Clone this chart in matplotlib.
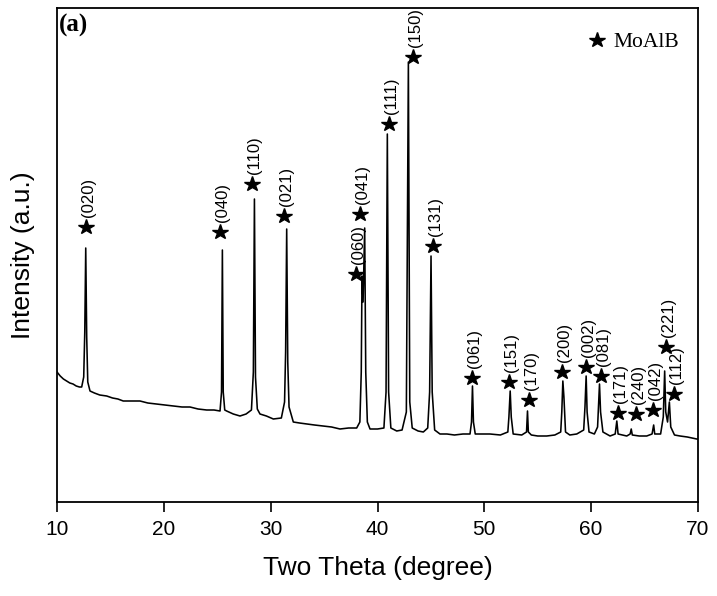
import matplotlib
matplotlib.use("Agg")
import matplotlib.pyplot as plt

# ---- XRD profile (2theta in degrees, intensity a.u.) ----
two_theta = [
    10.00, 10.30, 10.60, 10.90, 11.20, 11.50, 11.80, 12.10, 12.31, 12.50, 12.60, 12.69, 12.78, 12.88,
    13.09, 13.50, 14.00, 14.65, 15.20, 15.70, 16.20, 17.00, 17.77, 18.50, 19.33, 20.10, 20.89, 21.70,
    22.45, 23.20, 24.01, 24.70, 25.26, 25.40, 25.48, 25.56, 25.70, 25.88, 26.50, 27.13, 27.70, 28.20,
    28.38, 28.48, 28.58, 28.75, 29.00, 29.60, 30.25, 31.00, 31.30, 31.40, 31.50, 31.60, 31.72, 32.12,
    32.70, 33.37, 34.10, 34.93, 35.70, 36.49, 37.30, 38.05, 38.35, 38.48, 38.55, 38.65, 38.80, 38.90,
    39.05, 39.30, 40.00, 40.60, 40.80, 40.92, 41.04, 41.25, 41.80, 42.30, 42.70, 42.89, 43.02, 43.25,
    43.80, 44.29, 44.70, 44.88, 45.01, 45.12, 45.35, 45.85, 46.50, 47.20, 48.00, 48.66, 48.80, 48.89,
    48.98, 49.15, 50.00, 50.53, 51.50, 52.20, 52.30, 52.42, 52.52, 52.70, 53.50, 53.95, 54.04, 54.12,
    54.40, 55.00, 55.84, 56.60, 57.15, 57.25, 57.35, 57.45, 57.60, 58.00, 58.65, 59.30, 59.42, 59.53,
    59.62, 59.80, 60.30, 60.60, 60.78, 60.88, 61.10, 61.77, 62.25, 62.40, 62.52, 63.33, 63.65, 63.75,
    63.85, 64.50, 65.20, 65.70, 65.85, 65.95, 66.50, 66.75, 66.88, 66.98, 67.15, 67.32, 67.45, 67.80,
    68.32, 69.00, 69.88, 70.00,
]
intensity = [
    130, 126, 123, 121, 119, 118, 116, 115, 115, 125, 170, 254, 165, 120,
    111, 109, 107, 106, 104, 103, 101, 101, 101, 99, 98, 97, 96, 95,
    95, 93, 92, 92, 91, 110, 252, 110, 92, 91, 88, 86, 88, 92,
    130, 303, 125, 93, 88, 86, 83, 84, 100, 150, 273, 140, 95, 80,
    79, 78, 77, 76, 75, 73, 74, 74, 80, 130, 226, 200, 274, 130,
    80, 73, 73, 74, 110, 368, 110, 74, 71, 72, 90, 440, 100, 74,
    71, 70, 74, 110, 246, 110, 72, 68, 68, 67, 68, 68, 80, 116,
    80, 68, 68, 68, 67, 70, 85, 111, 85, 68, 67, 70, 91, 70,
    67, 66, 66, 67, 70, 90, 121, 105, 70, 67, 68, 72, 95, 126,
    90, 70, 68, 75, 118, 90, 70, 66, 68, 81, 68, 66, 68, 73,
    67, 66, 66, 68, 77, 68, 68, 85, 131, 90, 80, 100, 75, 67,
    66, 65, 63, 63,
]

# ---- MoAlB reflection markers ----
hkl_labels = ["(020)", "(040)", "(110)", "(021)", "(060)", "(041)", "(111)", "(150)", "(131)",
              "(061)", "(151)", "(170)", "(200)", "(002)", "(081)", "(171)", "(240)", "(042)",
              "(221)", "(112)"]
star_theta = [12.71, 25.26, 28.25, 31.25, 37.99, 38.36, 41.08, 43.32, 45.20,
              48.85, 52.31, 54.18, 57.27, 59.52, 60.92, 62.51, 64.20, 65.79,
              67.00, 67.75]
star_level = [275, 270, 318, 286, 228, 288, 378, 445, 256,
              124, 120, 102, 130, 135, 126, 89, 88, 92,
              155, 108]

x_ticks = [10, 20, 30, 40, 50, 60, 70]
phase_name = "MoAlB"
panel_tag = "(a)"

plt.rcParams["font.family"] = ["Liberation Sans", "DejaVu Sans"]

fig = plt.figure(figsize=(7.17, 5.96), dpi=100)
ax = fig.add_axes([57 / 717, 1 - 502 / 596, 641 / 717, 494 / 596])

ax.plot(two_theta, intensity, color="black", lw=1.15)
ax.plot(star_theta, star_level, ls="none", marker="*", ms=11.5, color="black", label=phase_name)

for lab, tx, ty in zip(hkl_labels, star_theta, star_level):
    ax.annotate(lab, (tx, ty), xytext=(1.5, 7.5), textcoords="offset points",
                rotation=90, ha="center", va="bottom", fontsize=12)

ax.set_xlim(10, 70)
ax.set_ylim(0, 494)
ax.set_xticks(x_ticks)
ax.set_yticks([])
ax.tick_params(axis="x", direction="out", length=7, width=1.2, labelsize=15, pad=6)
for sp in ax.spines.values():
    sp.set_linewidth(1.3)

ax.set_xlabel("Two Theta (degree)", fontsize=19, labelpad=12)
ax.set_ylabel("Intensity (a.u.)", fontsize=19, labelpad=16)

ax.text(0.003, 0.988, panel_tag, transform=ax.transAxes, ha="left", va="top",
        fontsize=18, fontweight="bold", family="Liberation Serif")

leg = ax.legend(loc="upper right", bbox_to_anchor=(1.0, 0.99), frameon=False,
                handlelength=0.8, handletextpad=0.35, numpoints=1,
                prop={"family": "Liberation Serif", "size": 15.5})

fig.savefig("out.png", dpi=100, facecolor="white")
